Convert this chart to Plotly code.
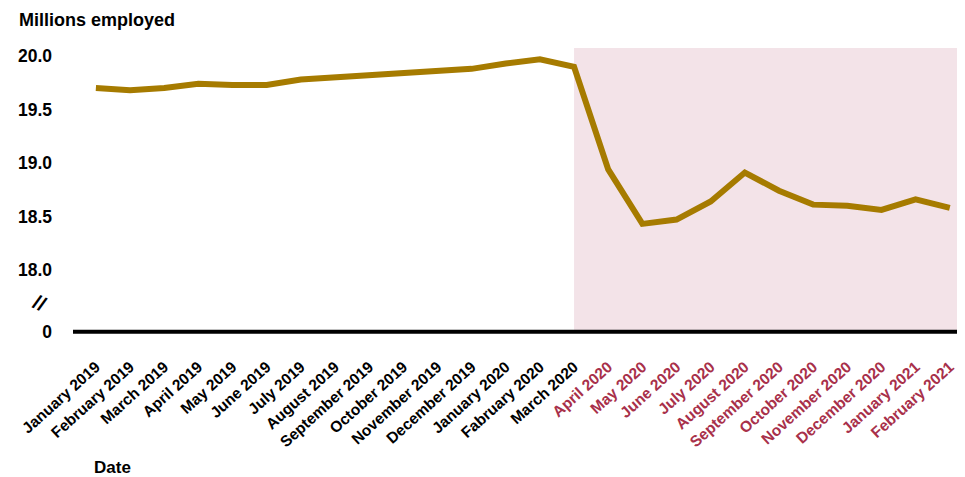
import plotly.graph_objects as go

months = ["January 2019", "February 2019", "March 2019", "April 2019", "May 2019",
          "June 2019", "July 2019", "August 2019", "September 2019", "October 2019",
          "November 2019", "December 2019", "January 2020", "Fabruary 2020", "March 2020",
          "April 2020", "May 2020", "June 2020", "July 2020", "August 2020",
          "September 2020", "October 2020", "November 2020", "December 2020",
          "January 2021", "February 2021"]
employed = [19.70, 19.68, 19.70, 19.74, 19.73, 19.73, 19.78, 19.80, 19.83, 19.84,
            19.86, 19.88, 19.93, 19.97, 19.90, 18.94, 18.43, 18.47, 18.64, 18.91,
            18.74, 18.61, 18.60, 18.56, 18.66, 18.58]
pandemic_start = "March 2020"
red_from = "April 2020"
ytick_vals = [17.42, 18.0, 18.5, 19.0, 19.5, 20.0]
ytick_text = ["0", "18.0", "18.5", "19.0", "19.5", "20.0"]

LINE = "#a67b00"
SHADE = "#f3e3e8"
RED = "#a8304a"
FONT = "Liberation Sans, Arial, sans-serif"

# page body has an 8px margin, so the figure is sized/offset to compensate
PW, PH = 886, 286  # plot area size in px
L, T = 65, 40

idx = list(range(len(months)))
red_i = months.index(red_from)
ticktext = [m if i < red_i else f"<span style='color:{RED}'>{m}</span>"
            for i, m in enumerate(months)]

fig = go.Figure()
fig.add_trace(go.Scatter(x=idx, y=employed, mode="lines",
                         line=dict(color=LINE, width=6), hoverinfo="skip"))

# shaded pandemic period
fig.add_shape(type="rect", xref="x", yref="y", x0=months.index(pandemic_start), x1=25.27,
              y0=ytick_vals[0], y1=20.075, fillcolor=SHADE, line_width=0, layer="below")
# baseline
fig.add_shape(type="line", xref="paper", yref="y", x0=0, x1=1,
              y0=ytick_vals[0], y1=ytick_vals[0], line=dict(color="black", width=4))

fig.update_layout(
    width=957, height=469,
    margin=dict(l=L, r=6, t=T, b=469 - T - PH, autoexpand=False),
    paper_bgcolor="white", plot_bgcolor="white",
    showlegend=False,
    font=dict(family=FONT, color="black"),
    xaxis=dict(range=[-0.67, 25.27], tickmode="array", tickvals=idx, ticktext=ticktext,
               tickangle=-42, showgrid=False, zeroline=False, showline=False,
               ticks="", ticklabelstandoff=20, automargin=False,
               tickfont=dict(family=FONT, size=15.5, color="black", weight="bold")),
    yaxis=dict(range=[17.40, 20.075], tickmode="array", tickvals=ytick_vals,
               ticktext=ytick_text, showgrid=False, zeroline=False, showline=False,
               ticks="", ticklabelstandoff=20, automargin=False,
               tickfont=dict(family=FONT, size=17.5, color="black", weight="bold")),
    annotations=[
        dict(text="<b>Millions employed</b>", xref="paper", yref="paper",
             x=(9 - L) / PW, y=1 + (T - 12) / PH, xanchor="left", yanchor="middle",
             showarrow=False, font=dict(family=FONT, size=18, color="black")),
        dict(text="<b>Date</b>", xref="paper", yref="paper",
             x=(84 - L) / PW, y=-(459 - (T + PH)) / PH, xanchor="left", yanchor="middle",
             showarrow=False, font=dict(family=FONT, size=17, color="black")),
        dict(text="<b>//</b>", xref="paper", yref="paper",
             x=(32 - L) / PW, y=(T + PH - 295) / PH, xanchor="center", yanchor="middle",
             showarrow=False, textangle=25, font=dict(family=FONT, size=20, color="black")),
    ],
)

fig.write_html("out.html")
